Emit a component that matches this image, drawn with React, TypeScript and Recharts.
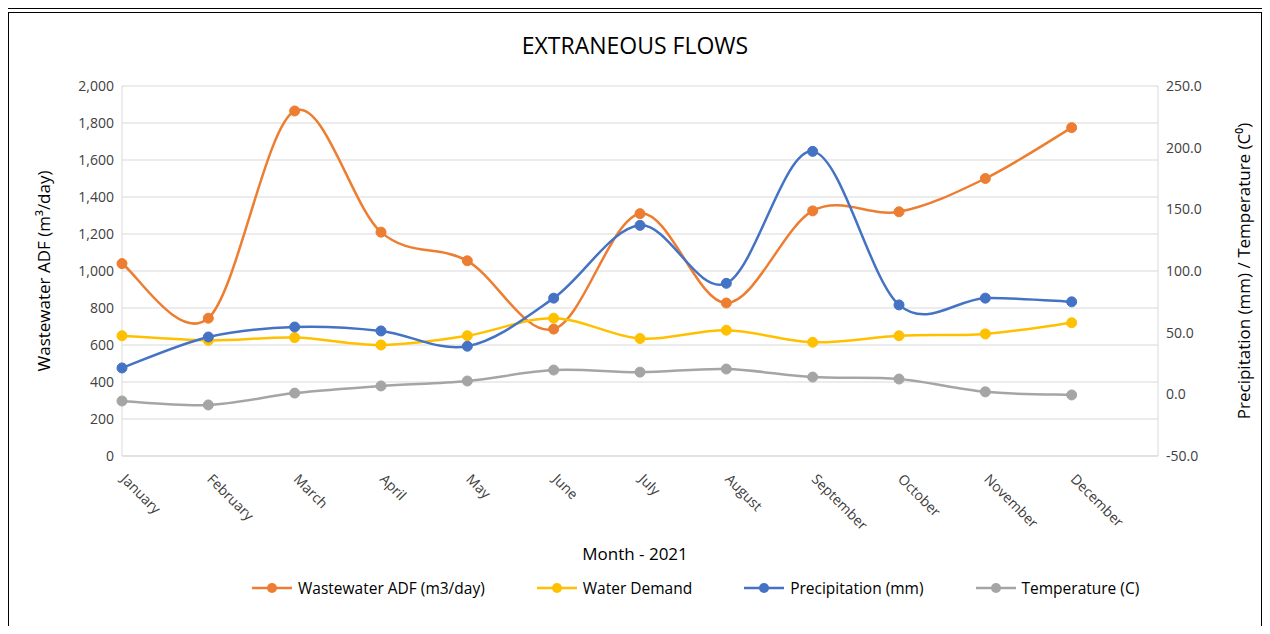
import { LineChart, Line, XAxis, YAxis, CartesianGrid } from 'recharts';

const months = ['January', 'February', 'March', 'April', 'May', 'June', 'July', 'August', 'September', 'October', 'November', 'December', ''];
const wastewater = [1040, 745, 1865, 1210, 1055, 686, 1310, 827, 1325, 1320, 1500, 1775];
const waterDemand = [650, 625, 640, 600, 650, 745, 635, 680, 615, 650, 660, 720];
const precipitation = [21.4, 46.5, 54.6, 51.4, 39, 78, 137, 90, 197, 72.5, 78, 75];
const temperature = [-5.4, -8.6, 1, 6.8, 10.8, 19.7, 18, 20.5, 14, 12.4, 2, -0.5];
const leftTicks = [0, 200, 400, 600, 800, 1000, 1200, 1400, 1600, 1800, 2000];
const rightTicks = [-50, 0, 50, 100, 150, 200, 250];

const data = months.map((m, i) => ({
  month: m,
  ww: wastewater[i] ?? null,
  wd: waterDemand[i] ?? null,
  pr: precipitation[i] ?? null,
  tp: temperature[i] ?? null,
}));

// Catmull-Rom style smoothing, close to Excel's smoothed lines
function excelCurve(context: any) {
  let pts: [number, number][] = [];
  return {
    areaStart() {},
    areaEnd() {},
    lineStart() { pts = []; },
    point(x: number, y: number) { pts.push([x, y]); },
    lineEnd() {
      if (!pts.length) return;
      context.moveTo(pts[0][0], pts[0][1]);
      for (let i = 0; i < pts.length - 1; i++) {
        const p0 = pts[i - 1] || pts[i];
        const p1 = pts[i];
        const p2 = pts[i + 1];
        const p3 = pts[i + 2] || p2;
        context.bezierCurveTo(
          p1[0] + (p2[0] - p0[0]) / 6, p1[1] + (p2[1] - p0[1]) / 6,
          p2[0] - (p3[0] - p1[0]) / 6, p2[1] - (p3[1] - p1[1]) / 6,
          p2[0], p2[1],
        );
      }
    },
  };
}

const font = '"Open Sans", "Liberation Sans", sans-serif';

const MonthTick = ({ x, y, payload }: any) => {
  const tx = x - 2;
  const ty = y + 16;
  return (
    <text x={tx} y={ty} transform={`rotate(45, ${tx}, ${ty})`} fill="#404040" fontSize={14} fontFamily={font} textAnchor="start">
      {payload.value}
    </text>
  );
};

const legend = [
  { name: 'Wastewater ADF (m3/day)', color: '#ED7D31' },
  { name: 'Water Demand', color: '#FFC000' },
  { name: 'Precipitation (mm)', color: '#4472C4' },
  { name: 'Temperature (C)', color: '#A5A5A5' },
];

export default function App() {
  const dot = (c: string) => ({ r: 5, fill: c, stroke: c, strokeWidth: 1 });
  return (
    <div style={{ position: 'relative', width: 1270, height: 634, margin: -8, background: '#fff', fontFamily: font, overflow: 'hidden' }}>
      <div style={{ position: 'absolute', left: 0, right: 0, top: 8, borderTop: '1px solid #000' }} />
      <div style={{ position: 'absolute', left: 8, right: 8, top: 12, bottom: -2, border: '1px solid #000' }} />
      <div style={{ position: 'absolute', top: 29, width: 1270, textAlign: 'center', fontSize: 23, color: '#000' }}>EXTRANEOUS FLOWS</div>
      <div style={{ position: 'absolute', top: 542, width: 1270, textAlign: 'center', fontSize: 17, color: '#000' }}>Month - 2021</div>
      <div style={{ position: 'absolute', top: 577, left: 252, display: 'flex', gap: 52, fontSize: 15.5, color: '#000', whiteSpace: 'nowrap' }}>
        {legend.map((l) => (
          <div key={l.name} style={{ display: 'flex', alignItems: 'center' }}>
            <svg width={40} height={14} style={{ marginRight: 6 }}>
              <line x1={0} x2={40} y1={7} y2={7} stroke={l.color} strokeWidth={2.5} />
              <circle cx={20} cy={7} r={5} fill={l.color} />
            </svg>
            {l.name}
          </div>
        ))}
      </div>
      <div style={{ position: 'absolute', left: 0, top: 0 }}>
        <LineChart width={1270} height={634} data={data} margin={{ top: 86, right: 0, left: 0, bottom: 0 }}>
          <CartesianGrid vertical={false} stroke="#D9D9D9" yAxisId="l" />
          <XAxis dataKey="month" interval={0} height={178} tick={<MonthTick />} tickLine={false} axisLine={{ stroke: '#D9D9D9' }} />
          <YAxis yAxisId="l" width={122} domain={[0, 2000]} ticks={leftTicks} interval={0}
            tickFormatter={(v) => v.toLocaleString('en-US')}
            tick={{ fill: '#404040', fontSize: 14, fontFamily: font }} tickLine={false} axisLine={{ stroke: '#D9D9D9' }}
            label={{ value: 'Wastewater ADF (m³/day)', angle: -90, position: 'insideLeft', offset: 44, style: { fill: '#000', fontSize: 17, textAnchor: 'middle' } }} />
          <YAxis yAxisId="r" orientation="right" width={112} domain={[-50, 250]} ticks={rightTicks} interval={0}
            tickFormatter={(v) => v.toFixed(1)}
            tick={{ fill: '#404040', fontSize: 14, fontFamily: font }} tickLine={false} axisLine={{ stroke: '#D9D9D9' }}
            label={{ value: 'Precipitation (mm) / Temperature (C⁰)', angle: -90, position: 'insideRight', offset: 26, style: { fill: '#000', fontSize: 17, textAnchor: 'middle' } }} />
          <Line yAxisId="l" dataKey="ww" type={excelCurve as any} stroke="#ED7D31" strokeWidth={2.5} dot={dot('#ED7D31')} isAnimationActive={false} />
          <Line yAxisId="l" dataKey="wd" type={excelCurve as any} stroke="#FFC000" strokeWidth={2.5} dot={dot('#FFC000')} isAnimationActive={false} />
          <Line yAxisId="r" dataKey="pr" type={excelCurve as any} stroke="#4472C4" strokeWidth={2.5} dot={dot('#4472C4')} isAnimationActive={false} />
          <Line yAxisId="r" dataKey="tp" type={excelCurve as any} stroke="#A5A5A5" strokeWidth={2.5} dot={dot('#A5A5A5')} isAnimationActive={false} />
        </LineChart>
      </div>
    </div>
  );
}
